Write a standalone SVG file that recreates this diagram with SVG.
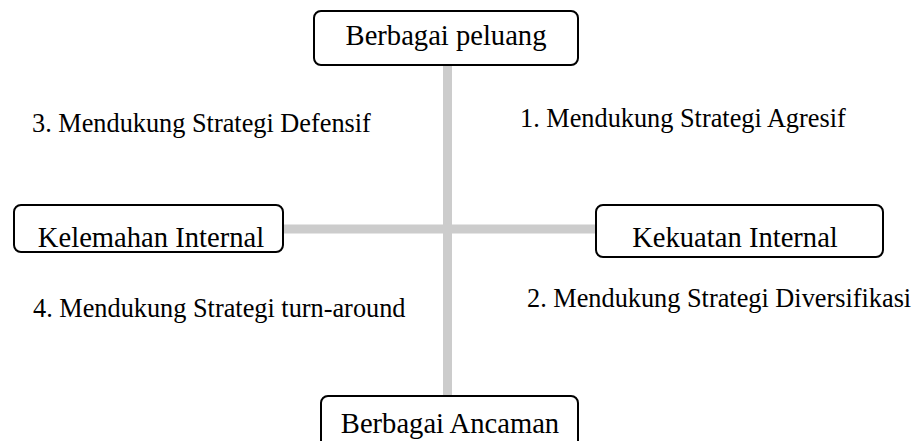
<svg xmlns="http://www.w3.org/2000/svg" width="917" height="441" viewBox="0 0 917 441">
<style>
.box{fill:#fff;stroke:#000;stroke-width:2}
.bar{stroke:#cccccc;stroke-width:9;fill:none}
.t{font-family:"Liberation Serif","Times New Roman",serif;fill:#000}
.bt{font-size:28.6px}
.lt{font-size:26.3px}
</style>
<rect width="917" height="441" fill="#fff"/>
<g id="connectors">
<line class="bar" x1="447.5" y1="65" x2="447.5" y2="396"/>
<line class="bar" x1="283" y1="229" x2="596" y2="229"/>
</g>
<g id="node-peluang">
<rect class="box" x="314" y="11" width="264" height="54" rx="7"/>
<text class="t bt" x="446" y="45" text-anchor="middle">Berbagai peluang</text>
</g>
<g id="node-kelemahan">
<rect class="box" x="14" y="205" width="269" height="47" rx="7"/>
<text class="t bt" x="151" y="247" text-anchor="middle">Kelemahan Internal</text>
</g>
<g id="node-kekuatan">
<rect class="box" x="596" y="205" width="287" height="52" rx="7"/>
<text class="t bt" x="735" y="247" text-anchor="middle">Kekuatan Internal</text>
</g>
<g id="node-ancaman">
<rect class="box" x="321" y="396" width="257" height="60" rx="7"/>
<text class="t bt" x="450" y="433" text-anchor="middle">Berbagai Ancaman</text>
</g>
<g id="labels">
<text class="t lt" x="32" y="132">3. Mendukung Strategi Defensif</text>
<text class="t lt" x="520" y="127">1. Mendukung Strategi Agresif</text>
<text class="t lt" x="33" y="317">4. Mendukung Strategi turn-around</text>
<text class="t lt" x="527" y="307">2. Mendukung Strategi Diversifikasi</text>
</g>
</svg>
